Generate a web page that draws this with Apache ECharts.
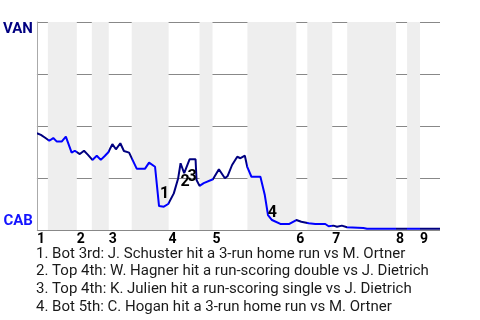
<!DOCTYPE html>
<html>
<head>
<meta charset="utf-8">
<script src="https://cdn.jsdelivr.net/npm/echarts@6/dist/echarts.min.js"></script>
<style>html,body{margin:0;padding:0;background:#fff}#c{width:480px;height:320px}</style>
</head>
<body>
<div id="c"></div>
<script>
// Inning labels and positions (play index units)
var inningLabels = ['1','2','3','4','5','6','7','8','9'];
var inningStart = [0, 10, 18, 33, 44, 65, 74, 90, 96];
var bottomStart = [2.75, 13.75, 23.75, 40.75, 52.75, 67.75, 77.75, 92.75, null];
var gameEnd = 101;

// Win probability for VAN (percent) by play index
var playX = [0,1,2.25,3.1,4.1,5,6.2,7.25,7.7,8.7,9.5,10.75,11.8,12.8,13.9,15,16,17,17.9,18.9,19.8,20.9,21.8,23.1,25,27.1,28.1,29.6,30.6,31.8,32.9,34.3,35.4,36,36.9,38.25,39.75,40,40.75,41.8,44.1,45.6,47.1,47.8,48.9,50.2,51,52.1,52.7,53.75,56,57.1,57.9,58.9,61,63.25,65,66.25,68.1,69.75,72.25,73.1,74.3,75.2,76.4,77.7,81.8,82.7,101];
var winProbVAN = [46.5,45.7,44.1,42.9,44.2,42.5,42.5,44.9,44.6,37.2,38.1,36.5,38.1,36.1,33.7,35.7,33.7,35.6,37.4,41.3,38.8,41.7,38.0,37.2,29.5,29.5,32.4,30.4,11.5,11.2,12.5,17.6,24.9,32.1,27.3,34.0,34.0,24.0,21.2,22.5,24.4,29.2,24.9,26.0,31.25,35.2,34.5,35.7,30.4,25.6,25.6,16.8,7.2,4.8,2.9,2.9,4.8,4.0,3.2,2.9,2.9,1.8,2.1,1.6,2.1,1.3,1.0,0.6,0.6];

// Key plays
var noteIds = ['1','2','3','4'];
var noteX = [32, 37.1, 38.9, 59];
var noteY = [17.3, 23.1, 25.7, 8.3];
var notes = [
  '1. Bot 3rd: J. Schuster hit a 3-run home run vs M. Ortner',
  '2. Top 4th: W. Hagner hit a run-scoring double vs J. Dietrich',
  '3. Top 4th: K. Julien hit a run-scoring single vs J. Dietrich',
  '4. Bot 5th: C. Hogan hit a 3-run home run vs M. Ortner'
];
var teamTop = 'VAN', teamBottom = 'CAB';

var NAVY = '#000080', BLUE = '#0000ff';

var lineData = playX.map(function (x, i) { return [x, winProbVAN[i]]; });
var bands = [];
var pieces = [];
for (var i = 0; i < inningStart.length; i++) {
  var end = i + 1 < inningStart.length ? inningStart[i + 1] : gameEnd;
  if (bottomStart[i] != null) {
    bands.push([{ xAxis: bottomStart[i] }, { xAxis: end }]);
    pieces.push({ gte: inningStart[i], lt: bottomStart[i], color: NAVY });
    pieces.push({ gte: bottomStart[i], lt: end, color: BLUE });
  } else {
    pieces.push({ gte: inningStart[i], lte: end, color: NAVY });
  }
}
var noteData = noteX.map(function (x, i) { return [x, noteY[i], i]; });

var chart = echarts.init(document.getElementById('c'), null, { renderer: 'canvas' });
chart.setOption({
  animation: false,
  backgroundColor: '#fff',
  textStyle: { fontFamily: 'Roboto' },
  grid: { left: 36, right: 40, top: 22, bottom: 90, containLabel: false },
  title: {
    text: notes.join('\n'),
    left: 36, top: 245, padding: 0,
    textStyle: { fontFamily: 'Roboto', fontSize: 15, fontWeight: 'normal', color: '#1a1a1a', lineHeight: 17.7 }
  },
  visualMap: {
    show: false, type: 'piecewise', dimension: 0, seriesIndex: 0, pieces: pieces
  },
  xAxis: {
    type: 'value', min: 0, max: gameEnd,
    axisLine: { show: false }, axisTick: { show: false }, splitLine: { show: false },
    axisLabel: {
      customValues: inningStart,
      formatter: function (v) { var k = inningStart.indexOf(v); return k >= 0 ? inningLabels[k] : ''; },
      align: 'left', margin: 2, fontSize: 14, fontWeight: 'bold', color: '#000', fontFamily: 'Roboto'
    }
  },
  yAxis: {
    type: 'value', min: 0, max: 100, interval: 25,
    axisLine: { show: true, lineStyle: { color: '#aaa', width: 1 } },
    axisTick: { show: false },
    splitLine: { show: true, lineStyle: { color: '#888', width: 1 } },
    axisLabel: {
      margin: 4,
      formatter: function (v) { return v === 100 ? '{van|' + teamTop + '}' : (v === 0 ? '{cab|' + teamBottom + '}' : ''); },
      rich: {
        van: { fontSize: 15, fontWeight: 'bold', color: NAVY, fontFamily: 'Roboto', padding: [14, 0, 0, 0] },
        cab: { fontSize: 15, fontWeight: 'bold', color: '#1414ff', fontFamily: 'Roboto', padding: [0, 0, 18, 0] }
      }
    }
  },
  series: [
    {
      type: 'line', data: lineData, symbol: 'none', z: 3,
      lineStyle: { width: 2 }
    },
    {
      type: 'line', data: [], z: 1,
      markArea: { silent: true, itemStyle: { color: '#eeeeee' }, data: bands }
    },
    {
      type: 'custom', data: noteData, z: 4, silent: true,
      renderItem: function (params, api) {
        var p = api.coord([api.value(0), api.value(1)]);
        return {
          type: 'text', x: p[0], y: p[1],
          style: {
            text: noteIds[api.value(2)], fill: '#000',
            font: 'bold 16px Roboto', align: 'center', verticalAlign: 'middle'
          }
        };
      }
    }
  ]
});
</script>
</body>
</html>
